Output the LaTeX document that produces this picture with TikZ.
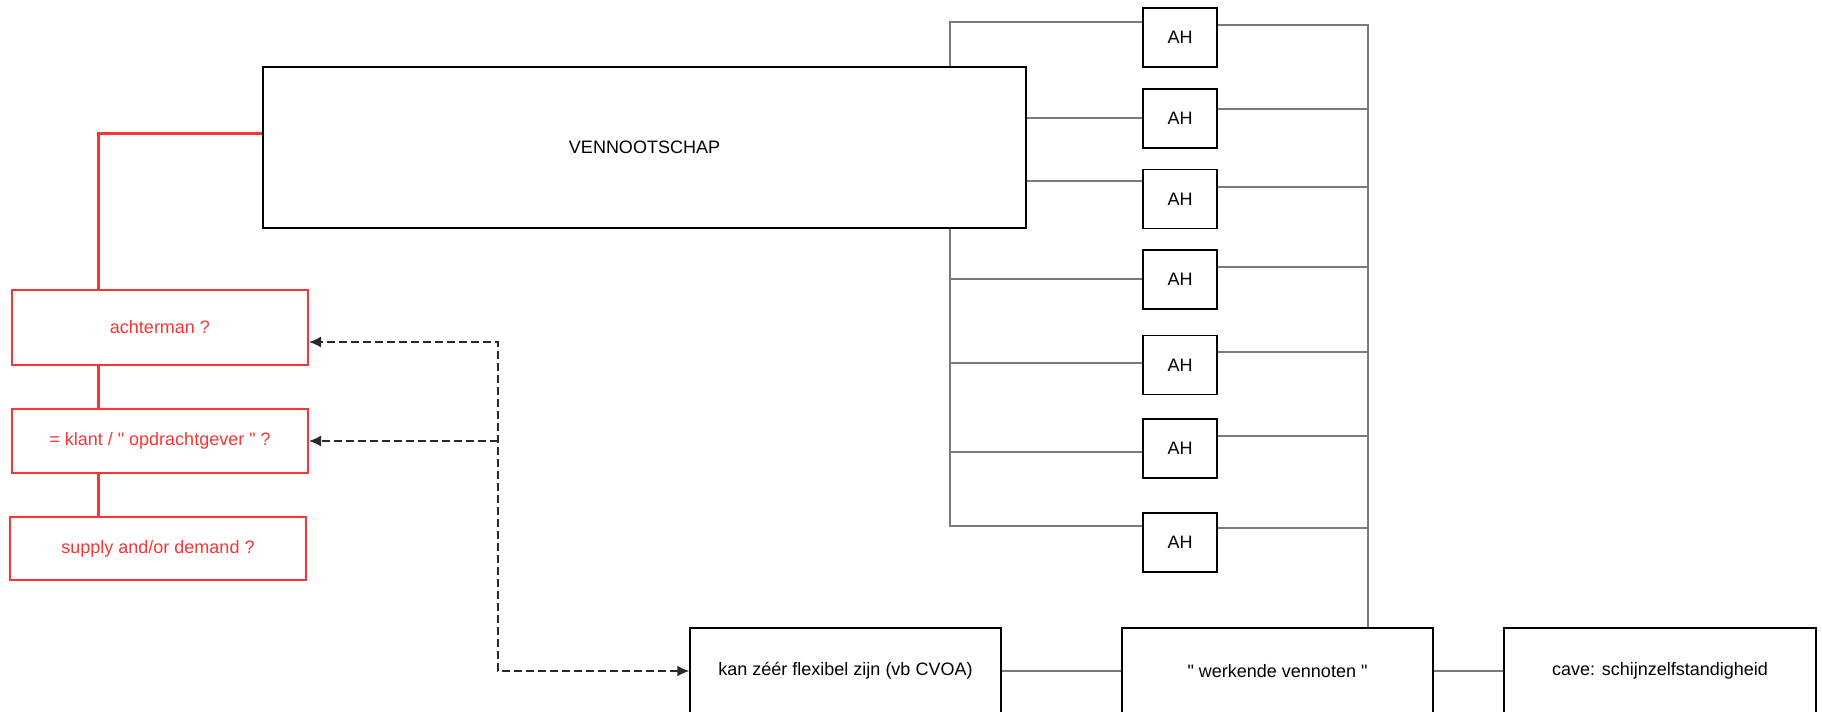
\documentclass[tikz,border=0pt]{standalone}
\usepackage{fontspec}
\setmainfont{Liberation Sans}
\usetikzlibrary{arrows.meta}
\definecolor{drawred}{HTML}{FF3333}
\definecolor{linegray}{HTML}{7A7A7A}
\definecolor{dashgray}{HTML}{2A2A2A}

\begin{document}
\begin{tikzpicture}[x=0.5pt, y=-0.5pt, >={Latex[length=6pt,width=5.5pt]},
		box/.style={draw=black, line width=0.75pt, rectangle, inner sep=0pt, font=\fontsize{9}{11}\selectfont},
		ahnode/.style={box, minimum width=37pt, minimum height=29.5pt},
		bignode/.style={box, minimum width=155.5pt, minimum height=43pt},
		rednode/.style={box, draw=drawred, text=drawred, line width=1pt, minimum width=148pt},
		grayline/.style={draw=linegray, line width=1.2pt},
		redline/.style={draw=drawred, line width=1.5pt},
		dashline/.style={draw=dashgray, line width=0.75pt, dash pattern=on 4pt off 2pt}]
			\useasboundingbox (0,0) rectangle (1822,712);
			\clip (0,0) rectangle (1822,712);

			\node[box, minimum width=381.5pt, minimum height=80.5pt] at (644.5,147.5) (vennootschap) {VENNOOTSCHAP};

			\node[ahnode] at (1180,37.5) (ah1) {AH};
			\node[ahnode] at (1180,118.5) (ah2) {AH};
			\node[ahnode] at (1180,199) (ah3) {AH};
			\node[ahnode] at (1180,279.5) (ah4) {AH};
			\node[ahnode] at (1180,365) (ah5) {AH};
			\node[ahnode] at (1180,448.5) (ah6) {AH};
			\node[ahnode] at (1180,542.5) (ah7) {AH};

			\node[rednode, minimum height=37.5pt] at (160,327.5) (achterman) {achterman ?};
			\node[rednode, minimum height=32pt] at (160,441) (klant) {= klant / \textquotedbl{} opdrachtgever \textquotedbl{} ?};
			\node[rednode, minimum height=31.5pt] at (158,548.5) (supply) {supply and/or demand ?};

			\node[bignode] at (845.5,671) (flexibel) {kan zéér flexibel zijn (vb CVOA)};
			\node[bignode] at (1277.5,671) (werkend) {\textquotedbl{} werkende vennoten \textquotedbl};
			\node[bignode, minimum width=156pt] at (1660,671) (cave) {cave: schijnzelfstandigheid};

			\coordinate (redcorner) at (98,133);
			\coordinate (lbus) at (950,22);
			\coordinate (lbusend) at (950,526);
			\coordinate (rbus) at (1368,25);
			\coordinate (dtop) at (498,342);

			\draw[redline] ([yshift=7.25pt]vennootschap.west) -- (redcorner) -- (redcorner |- achterman.north);
			\draw[redline] (achterman.south -| redcorner) -- (klant.north -| redcorner);
			\draw[redline] (klant.south -| redcorner) -- (supply.north -| redcorner);

			\draw[grayline] (vennootschap.north -| lbus) -- (lbus) -- (lbus -| ah1.west);
			\draw[grayline] (vennootschap.east |- 0,118) -- (ah2.west |- 0,118);
			\draw[grayline] (vennootschap.east |- 0,181) -- (ah3.west |- 0,181);
			\draw[grayline] (vennootschap.south -| lbusend) -- (lbusend) -- (lbusend -| ah7.west);
			\draw[grayline] (lbusend |- 0,279) -- (ah4.west |- 0,279);
			\draw[grayline] (lbusend |- 0,363) -- (ah5.west |- 0,363);
			\draw[grayline] (lbusend |- 0,452) -- (ah6.west |- 0,452);

			\draw[grayline] (ah1.east |- rbus) -- (rbus) -- (rbus |- werkend.north);
			\draw[grayline] (ah2.east |- 0,109) -- (rbus |- 0,109);
			\draw[grayline] (ah3.east |- 0,187) -- (rbus |- 0,187);
			\draw[grayline] (ah4.east |- 0,267) -- (rbus |- 0,267);
			\draw[grayline] (ah5.east |- 0,352) -- (rbus |- 0,352);
			\draw[grayline] (ah6.east |- 0,436) -- (rbus |- 0,436);
			\draw[grayline] (ah7.east |- 0,528) -- (rbus |- 0,528);

			\path
			(flexibel) edge[grayline] (werkend)
			(werkend) edge[grayline] (cave);

			\draw[dashline, <->] (flexibel.west) -| (dtop) -- (dtop -| achterman.east);
			\draw[dashline, ->] (dtop |- klant.east) -- (klant.east);
		\end{tikzpicture}
\end{document}
